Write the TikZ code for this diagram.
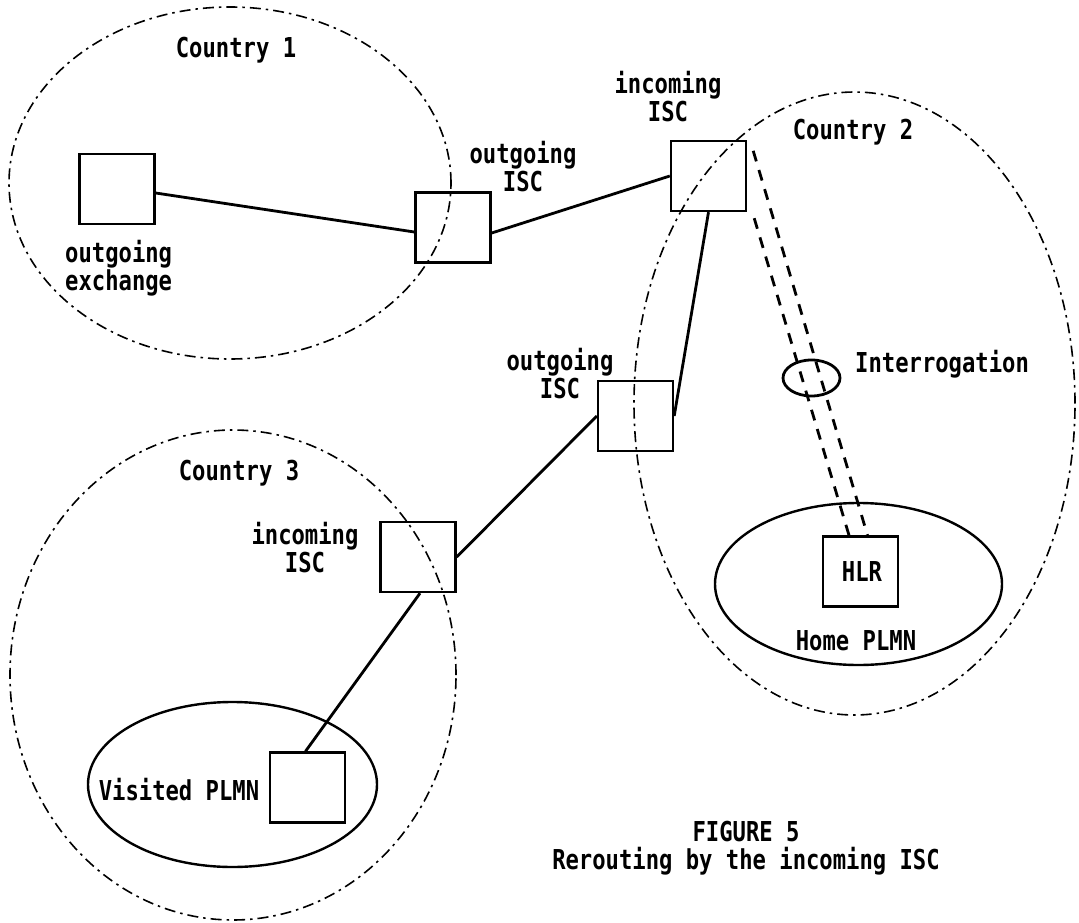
\documentclass[tikz,border=0pt]{standalone}
\usepackage{fontspec}
\newfontfamily\plotfont{DejaVu Sans Mono}[FakeStretch=0.81]
\usetikzlibrary{shapes.geometric,calc}

\begin{document}
\begin{tikzpicture}[x=1pt,y=-1pt,
  lbl/.style={font={\plotfont\bfseries\fontsize{27.4}{28}\selectfont}, inner sep=0pt, align=center},
  exch/.style={draw, line width=2.4pt, minimum width=75pt, minimum height=70pt, inner sep=0pt},
  region/.style={draw, ellipse, line width=1.6pt, dash pattern=on 11pt off 5pt on 2.5pt off 5pt, inner sep=0pt},
  plmn/.style={draw, ellipse, line width=2.4pt, inner sep=0pt},
  link/.style={line width=2.8pt},
  query/.style={line width=2.8pt, dash pattern=on 11pt off 9pt}]

\fill[white] (0,0) rectangle (1079,923);
\useasboundingbox (0,0) rectangle (1079,923);

% countries
\node[region, minimum width=442pt, minimum height=352pt] (c1) at (230,183) {};
\node[region, minimum width=441pt, minimum height=623pt] (c2) at (854.5,403.5) {};
\node[region, minimum width=446pt, minimum height=490pt] (c3) at (233,675) {};

% mobile networks
\node[plmn, minimum width=289pt, minimum height=165pt] (vplmn) at (232.5,784.5) {};
\node[plmn, minimum width=287pt, minimum height=162pt] (hplmn) at (858.5,584) {};
\node[plmn, line width=2.8pt, minimum width=57pt, minimum height=36pt] (intg) at (811.5,378) {};

% exchanges
\node[exch] (oex)   at (117,189) {};
\node[exch] (oisc1) at (453,227.5) {};
\node[exch] (iisc1) at (708.5,176) {};
\node[exch] (oisc2) at (635.5,416) {};
\node[exch] (iisc2) at (418,557) {};
\node[exch] (vmsc)  at (307.5,787.5) {};
\node[exch] (hlr)   at (860.5,571.5) {};

% call path
\draw[link] ($(oex.east)+(0,4)$) -- ($(oisc1.west)+(0,4.5)$);
\draw[link] ($(oisc1.east)+(0,5.5)$) -- (iisc1.west);
\draw[link] (iisc1.south) -- (oisc2.east);
\draw[link] (oisc2.west) -- (iisc2.east);
\draw[link] ($(iisc2.south)+(2,0)$) -- ($(vmsc.north)+(-2,0)$);

% HLR interrogation
\draw[query] ($(iisc1.north east)+(6,11)$) -- ($(hlr.north)+(7,0)$);
\draw[query] ($(iisc1.south east)+(7,6)$) -- ($(hlr.north)+(-11.5,0)$);

% labels
\node[lbl, anchor=base] (l1) at (236,58) {Country 1};
\node[lbl, anchor=base] (l2) at (853,140) {Country 2};
\node[lbl, anchor=base] (l3) at (239,480) {Country 3};
\node[lbl, anchor=west, align=left] (loex) at (65,268) {outgoing\\exchange};
\node[lbl] (loisc1) at (523,167) {outgoing\\ISC};
\node[lbl] (liisc1) at (668,97) {incoming\\ISC};
\node[lbl] (loisc2) at (560,374) {outgoing\\ISC};
\node[lbl] (liisc2) at (305,548) {incoming\\ISC};
\node[lbl, anchor=base west] (lint) at (855,372) {Interrogation};
\node[lbl, anchor=base] (lvis) at (179,800) {Visited PLMN};
\node[lbl, anchor=base] (lhlr) at (862,581) {HLR};
\node[lbl, anchor=base] (lhome) at (856,650) {Home PLMN};
\node[lbl] (cap) at (746,848) {FIGURE 5\\Rerouting by the incoming ISC};
\end{tikzpicture}
\end{document}
